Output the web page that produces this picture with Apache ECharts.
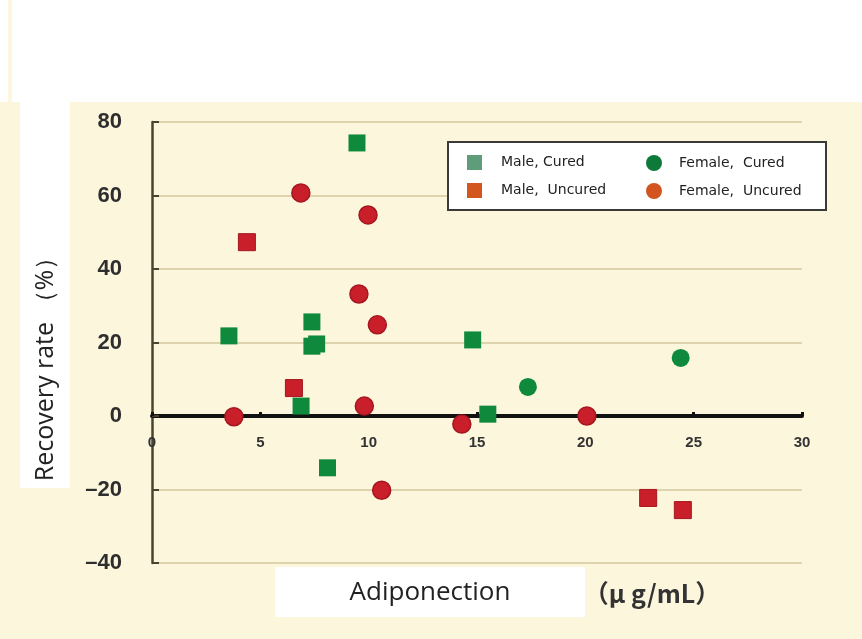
<!DOCTYPE html>
<html>
<head>
<meta charset="utf-8">
<script src="https://cdn.jsdelivr.net/npm/echarts@6/dist/echarts.min.js"></script>
<style>html,body{margin:0;padding:0;background:#fff}#c{width:862px;height:639px}</style>
</head>
<body>
<div id="c"></div>
<script>
// ---- data (x: adiponectin µg/mL, y: recovery rate %) ----
const maleCured = [[3.55,21.8],[9.46,74.3],[7.38,25.6],[7.38,19.0],[7.6,19.6],[6.88,2.7],[8.1,-14.1],[14.8,20.7],[15.5,0.5]];
const maleUncured = [[4.38,47.3],[6.55,7.6],[22.9,-22.3],[24.5,-25.6]];
const femaleCured = [[17.35,7.9],[24.4,15.8]];
const femaleUncured = [[3.78,-0.2],[6.87,60.7],[9.97,54.7],[9.55,33.2],[10.4,24.8],[9.8,2.7],[10.6,-20.2],[14.3,-2.2],[20.07,0]];
const seriesNames = ['Male, Cured','Male,  Uncured','Female,  Cured','Female,  Uncured'];
const xTicks = {min:0, max:30, interval:5};
const yTicks = {min:-40, max:80, interval:20};
const yAxisTitle = 'Recovery rate （%）';
const xAxisTitle = 'Adiponection';
const xAxisUnit = '（μ g/mL）';

const GREEN = '#0f8a3c', RED = '#c91f2a';
const GRID = {left:152, right:60, top:122, bottom:76};
const plotH = 639 - GRID.top - GRID.bottom;
// shift the x axis (line, ticks, labels) up to y = 0
const xOffset = -plotH * (0 - yTicks.min) / (yTicks.max - yTicks.min);

const chart = echarts.init(document.getElementById('c'));
chart.setOption({
  backgroundColor: '#fcf6dd',
  animation: false,
  grid: GRID,
  graphic: [
    {type:'rect', shape:{x:12,y:0,width:850,height:102}, style:{fill:'#ffffff'}, silent:true, z:-10},
    {type:'rect', shape:{x:0,y:0,width:8,height:102}, style:{fill:'#ffffff'}, silent:true, z:-10},
    {type:'rect', shape:{x:20,y:0,width:50,height:488}, style:{fill:'#ffffff'}, silent:true, z:-10},
    {type:'rect', shape:{x:275,y:567,width:310,height:50}, style:{fill:'#ffffff'}, silent:true, z:-10},
    {type:'text', x:46, y:363, rotation:Math.PI/2, style:{text:yAxisTitle, font:'25px "Open Sans"', fill:'#222', align:'center', verticalAlign:'middle'}, silent:true},
    {type:'text', x:430, y:593, style:{text:xAxisTitle, font:'26px "Open Sans"', fill:'#222', align:'center', verticalAlign:'middle'}, silent:true},
    {type:'text', x:652, y:593, style:{text:xAxisUnit, font:'bold 25px "Noto Sans CJK JP"', fill:'#333', align:'center', verticalAlign:'middle'}, silent:true},
    {type:'rect', shape:{x:448,y:142,width:378,height:68}, style:{fill:'#ffffff', stroke:'#3a3a3a', lineWidth:2}, silent:true, z:5}
  ],
  legend: [
    {left:462, top:150, orient:'vertical', itemWidth:15, itemHeight:15, itemGap:13, z:10,
     textStyle:{fontFamily:'DejaVu Sans', fontSize:14, color:'#222', padding:[0,0,0,14]},
     data:[{name:seriesNames[0], icon:'rect', itemStyle:{color:'#5e9c7a', borderWidth:0}},
           {name:seriesNames[1], icon:'rect', itemStyle:{color:'#d2561e', borderWidth:0}}]},
    {left:641, top:150, orient:'vertical', itemWidth:18, itemHeight:16, itemGap:12, z:10,
     textStyle:{fontFamily:'DejaVu Sans', fontSize:14, color:'#222', padding:[0,0,0,11]},
     data:[{name:seriesNames[2], icon:'circle', itemStyle:{color:'#0e7a3a', borderWidth:0}},
           {name:seriesNames[3], icon:'circle', itemStyle:{color:'#d2541e', borderWidth:0}}]}
  ],
  xAxis: {
    type:'value', min:xTicks.min, max:xTicks.max, interval:xTicks.interval,
    offset: xOffset,
    axisLine:{onZero:false, lineStyle:{color:'#111', width:4, cap:'round'}},
    axisTick:{show:true, inside:true, length:4, lineStyle:{color:'#111', width:3}},
    axisLabel:{margin:19, fontFamily:'Liberation Sans', fontWeight:'bold', fontSize:15, color:'#333'},
    splitLine:{show:false}
  },
  yAxis: {
    type:'value', min:yTicks.min, max:yTicks.max, interval:yTicks.interval,
    axisLine:{show:true, onZero:false, lineStyle:{color:'#4a4330', width:2.5}},
    axisTick:{show:true, inside:true, length:7, lineStyle:{color:'#4a4330', width:2}},
    axisLabel:{margin:30, fontFamily:'Liberation Sans', fontWeight:'bold', fontSize:22, color:'#2e2e2e',
      formatter: v => v < 0 ? '–' + Math.abs(v) : String(v)},
    splitLine:{show:true, lineStyle:{color:'#ddd4ae', width:2}}
  },
  series: [
    {name:seriesNames[0], type:'scatter', symbol:'rect', symbolSize:17, data:maleCured, itemStyle:{color:GREEN, opacity:1}},
    {name:seriesNames[1], type:'scatter', symbol:'rect', symbolSize:17, data:maleUncured, itemStyle:{color:RED, borderColor:'#a5161f', borderWidth:1, opacity:1}},
    {name:seriesNames[2], type:'scatter', symbol:'circle', symbolSize:18, data:femaleCured, itemStyle:{color:GREEN, opacity:1}},
    {name:seriesNames[3], type:'scatter', symbol:'circle', symbolSize:18, data:femaleUncured, itemStyle:{color:RED, borderColor:'#a5161f', borderWidth:1.5, opacity:1}}
  ]
});
</script>
</body>
</html>
